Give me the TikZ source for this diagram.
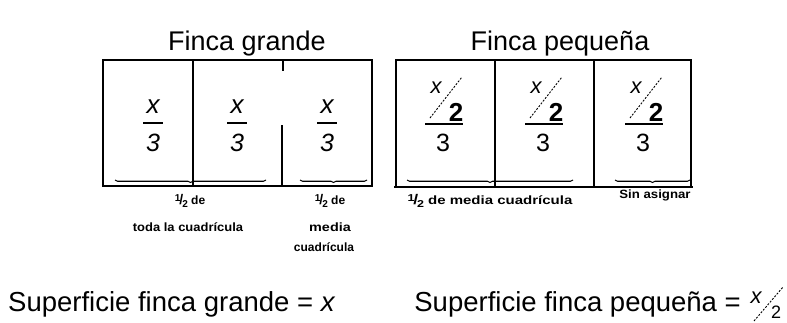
\documentclass[tikz,border=0pt]{standalone}
\usepackage{fontspec}
\setmainfont{Liberation Sans}
\usetikzlibrary{decorations.pathreplacing}
\newcommand{\hfr}{\raisebox{.55ex}{\fontsize{10}{10}\selectfont 1}\kern-.08em{\fontsize{14}{14}\selectfont/}\kern-.08em\raisebox{-.45ex}{\fontsize{10}{10}\selectfont 2}}
\tikzset{
  frame/.style={line width=1.8pt},
  brc/.style={decorate, decoration={brace, mirror, amplitude=2.5pt}, line width=1.1pt},
  title/.style={font=\fontsize{27}{30}\selectfont, inner sep=0pt},
  big/.style={font=\fontsize{27.5}{30}\selectfont, inner sep=0pt},
  num/.style={font=\fontsize{26}{28}\selectfont\itshape, inner sep=0pt},
  den/.style={font=\fontsize{25}{28}\selectfont\itshape, inner sep=0pt},
  snum/.style={font=\fontsize{22}{24}\selectfont\itshape, inner sep=0pt},
  sden/.style={font=\fontsize{25}{28}\selectfont, inner sep=0pt},
  stwo/.style={font=\fontsize{26}{28}\selectfont\bfseries, inner sep=0pt},
  bar/.style={line width=1.6pt},
  sl/.style={line width=0.9pt, dash pattern=on 2pt off 1.5pt},
  lbl/.style={font=\fontsize{12}{20}\selectfont\bfseries, inner sep=0pt, align=center}
}
\begin{document}
\begin{tikzpicture}[x=1pt,y=-1pt]
\useasboundingbox (0,0) rectangle (787,322);
% titles
\node[title, anchor=base] (t1) at (247,50) {Finca grande};
\node[title, anchor=base] (t2) at (560,50) {Finca peque\~na};
% big box
\draw[frame] (103,186) -- (103,60) -- (372,60) -- (372,186) -- cycle;
\draw[frame] (193,60) -- (193,186);
\draw[frame] (283,60) -- (283,71);
\draw[frame] (282,125) -- (282,186);
% small box
\draw[frame] (396,187) -- (396,60) -- (691,60) -- (691,187);
\draw[frame] (394,187) -- (693,187);
\draw[frame] (495,60) -- (495,187);
\draw[frame] (594,60) -- (594,187);
% big fractions
\foreach \i/\cx in {1/153,2/237,3/327}{
  \node[num] (bn\i) at (\cx,107) {x};
  \draw[bar] (\cx-10,123) -- (\cx+10,123);
  \node[den] (bd\i) at (\cx,143) {3};
}
% small fractions
\foreach \i/\cx in {1/443,2/543,3/643}{
  \node[snum] (sn\i) at (\cx-7,88) {x};
  \draw[sl] (\cx-13,118) -- (\cx+19,77);
  \node[stwo] (st\i) at (\cx+13,112) {2};
  \draw[bar] (\cx-18,124) -- (\cx+20,124);
  \node[sden] (sd\i) at (\cx,143) {3};
}
% braces
\coordinate (b1a) at (115,180); \coordinate (b1b) at (266,180);
\coordinate (b2a) at (300,180); \coordinate (b2b) at (367,180);
\coordinate (b3a) at (407,180); \coordinate (b3b) at (573,180);
\coordinate (b4a) at (615,180); \coordinate (b4b) at (690,180);
\draw[brc] (b1a) -- (b1b);
\draw[brc] (b2a) -- (b2b);
\draw[brc] (b3a) -- (b3b);
\draw[brc] (b4a) -- (b4b);
% labels
\node[lbl] (l1a) at (190,201) {\hfr\ de};
\node[lbl] (l1b) at (188,227) {\scalebox{1.08}[1]{toda la cuadr\'icula}};
\node[lbl] (l2a) at (330,201) {\hfr\ de};
\node[lbl] (l2b) at (330,227) {\scalebox{1.2}[1]{media}};
\node[lbl] (l2c) at (324,247) {cuadr\'icula};
\node[lbl] (l3) at (490,201) {\scalebox{1.25}[1]{\hfr\ de media cuadr\'icula}};
\node[lbl] (l4) at (655,195) {\scalebox{1.1}[1]{Sin asignar}};
% bottom
\node[big, anchor=base west] (s1) at (8,311) {Superficie finca grande = \textit{x}};
\node[big, anchor=base east] (s2) at (741,311) {Superficie finca peque\~na =};
\node[snum] (sx) at (756,298) {x};
\draw[sl] (754,321) -- (783,287);
\node[font=\fontsize{18}{20}\selectfont, inner sep=0pt] (s22) at (776,312) {2};
\end{tikzpicture}
\end{document}
